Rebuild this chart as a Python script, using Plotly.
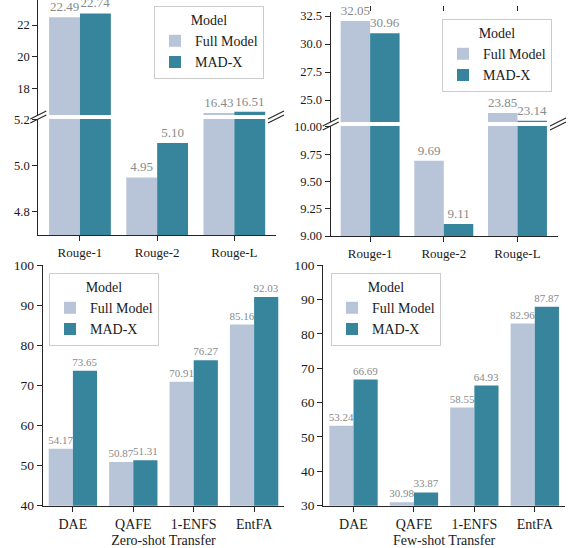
import plotly.graph_objects as go

W, H = 570, 548

# ---------------- data ----------------
rouge_cats = ["Rouge-1", "Rouge-2", "Rouge-L"]
tl_full = [22.49, 4.95, 16.43]
tl_madx = [22.74, 5.10, 16.51]
tr_full = [32.05, 9.69, 23.85]
tr_madx = [30.96, 9.11, 23.14]

fact_cats = ["DAE", "QAFE", "1-ENFS", "EntFA"]
zs_full = [54.17, 50.87, 70.91, 85.16]
zs_madx = [73.65, 51.31, 76.27, 92.03]
fs_full = [53.24, 30.98, 58.55, 82.96]
fs_madx = [66.69, 33.87, 64.93, 87.87]

series_names = ["Full Model", "MAD-X"]
colors = ["#b8c5d8", "#37849d"]

SERIF = "Liberation Serif, Times New Roman, serif"
AXC = "#262626"


def fx(p):
    return p / W


def fy(p):
    return 1 - p / H


fig = go.Figure()


def fmt_labels(vals, lo, hi):
    return [f"{v:.2f}" if lo <= v <= hi else "" for v in vals]


def add_pair(cats, full, madx, xa, ya, lo, hi, legend, showlegend, tsize):
    for name, vals, col in zip(series_names, [full, madx], colors):
        fig.add_trace(go.Bar(
            x=cats, y=vals, name=name, marker=dict(color=col, line=dict(width=0)),
            text=fmt_labels(vals, lo, hi), textposition="outside",
            textfont=dict(family=SERIF, size=tsize, color="#8a8a8a"),
            cliponaxis=False, constraintext="none",
            xaxis=xa, yaxis=ya, legend=legend, showlegend=showlegend,
            legendgroup=legend + name,
        ))


# ranges of the broken axes
TL_UP = [16.30, 23.59]
TL_LO = [4.70, 5.204]
TR_UP = [23.036, 32.857]
TR_LO = [9.0, 10.009]

# top-left (broken)
add_pair(rouge_cats, tl_full, tl_madx, "x", "y", TL_UP[0], TL_UP[1], "legend", True, 13)
add_pair(rouge_cats, tl_full, tl_madx, "x2", "y2", TL_LO[0], TL_LO[1], "legend", False, 13)
# top-right (broken)
add_pair(rouge_cats, tr_full, tr_madx, "x3", "y3", TR_UP[0], TR_UP[1], "legend2", True, 13)
add_pair(rouge_cats, tr_full, tr_madx, "x4", "y4", TR_LO[0], TR_LO[1], "legend2", False, 13)
# bottom
add_pair(fact_cats, zs_full, zs_madx, "x5", "y5", 0, 1000, "legend3", True, 11)
add_pair(fact_cats, fs_full, fs_madx, "x6", "y6", 0, 1000, "legend4", True, 11)


def axis_base(size):
    return dict(showline=True, linecolor=AXC, linewidth=1.2, ticks="outside",
                ticklen=5, tickwidth=1.2, tickcolor=AXC, showgrid=False,
                zeroline=False, automargin=False,
                tickfont=dict(family=SERIF, size=size, color="#1a1a1a"))


def top_x(domain, rng, anchor):
    d = axis_base(12)
    d.update(domain=domain, range=rng, anchor=anchor, side="top",
             showline=False, showticklabels=False)
    return d


def bottom_x(domain, rng, anchor, size, title=None):
    d = axis_base(size)
    d.update(domain=domain, range=rng, anchor=anchor)
    if title:
        d["title"] = dict(text=title, font=dict(family=SERIF, size=14, color="#1a1a1a"),
                          standoff=4)
    return d


def yax(domain, rng, anchor, tickvals, fmt, size):
    d = axis_base(size)
    d.update(domain=domain, range=rng, anchor=anchor, tickvals=tickvals,
             tickformat=fmt)
    return d


TL_X = [fx(38.3), fx(276)]
TR_X = [fx(330.7), fx(558)]
BL_X = [fx(42.7), fx(284.3)]
BR_X = [fx(323.3), fx(565)]

TL_UP_D = [fy(115), 1.0]
TL_LO_D = [fy(235), fy(119)]
TR_UP_D = [fy(122), fy(12)]
TR_LO_D = [fy(236), fy(126)]
BOT_D = [fy(505.7), fy(265)]

layout = dict(
    template="none",
    width=W, height=H, margin=dict(l=0, r=0, t=0, b=0, autoexpand=False),
    paper_bgcolor="white", plot_bgcolor="white",
    bargap=0.2, bargroupgap=0, barmode="group",
    font=dict(family=SERIF, color="#1a1a1a"),
    xaxis=top_x(TL_X, [-0.54, 2.54], "y"),
    yaxis=yax(TL_UP_D, TL_UP, "x", [18, 20, 22], "d", 12.5),
    xaxis2=bottom_x(TL_X, [-0.54, 2.54], "y2", 13),
    yaxis2=yax(TL_LO_D, TL_LO, "x2", [4.8, 5.0, 5.2], ".1f", 12.5),
    xaxis3=top_x(TR_X, [-0.535, 2.55], "y3"),
    yaxis3=yax(TR_UP_D, TR_UP, "x3", [25, 27.5, 30, 32.5], ".1f", 12.5),
    xaxis4=bottom_x(TR_X, [-0.535, 2.55], "y4", 13),
    yaxis4=yax(TR_LO_D, TR_LO, "x4", [9.0, 9.25, 9.5, 9.75, 10.0], ".2f", 12.5),
    xaxis5=bottom_x(BL_X, [-0.5, 3.5], "y5", 14, "Zero-shot Transfer"),
    yaxis5=yax(BOT_D, [40, 100], "x5", list(range(40, 101, 10)), "d", 13.5),
    xaxis6=bottom_x(BR_X, [-0.5, 3.5], "y6", 14, "Few-shot Transfer"),
    yaxis6=yax(BOT_D, [30, 100], "x6", list(range(30, 101, 10)), "d", 13.5),
)


def legend_box(x, y):
    return dict(x=fx(x), y=fy(y), xanchor="left", yanchor="top",
                title=dict(text="Model", side="top center",
                           font=dict(family=SERIF, size=14, color="#1a1a1a")),
                font=dict(family=SERIF, size=14, color="#1a1a1a"),
                bgcolor="white", bordercolor="#cccccc", borderwidth=1,
                itemwidth=30, tracegroupgap=0, traceorder="normal")


layout["legend"] = legend_box(154, 6)
layout["legend2"] = legend_box(442, 19)
layout["legend3"] = legend_box(49, 273)
layout["legend4"] = legend_box(331, 273)

fig.update_layout(**layout)

# break marks "//" on the broken axes
shapes = []
for (x0, x1), ycuts in [((38.3, 276), (115, 119)), ((330.7, 558), (122, 126))]:
    for cx in (x0, x1):
        for cy in ycuts:
            shapes.append(dict(type="line", xref="paper", yref="paper",
                               x0=fx(cx - 8), y0=fy(cy + 4), x1=fx(cx + 8), y1=fy(cy - 4),
                               line=dict(color=AXC, width=1.2)))
fig.update_layout(shapes=shapes)

fig.write_html(
    "out.html",
    config={"displayModeBar": False},
    post_script="document.body.style.margin='0';document.body.style.overflow='hidden';",
)
